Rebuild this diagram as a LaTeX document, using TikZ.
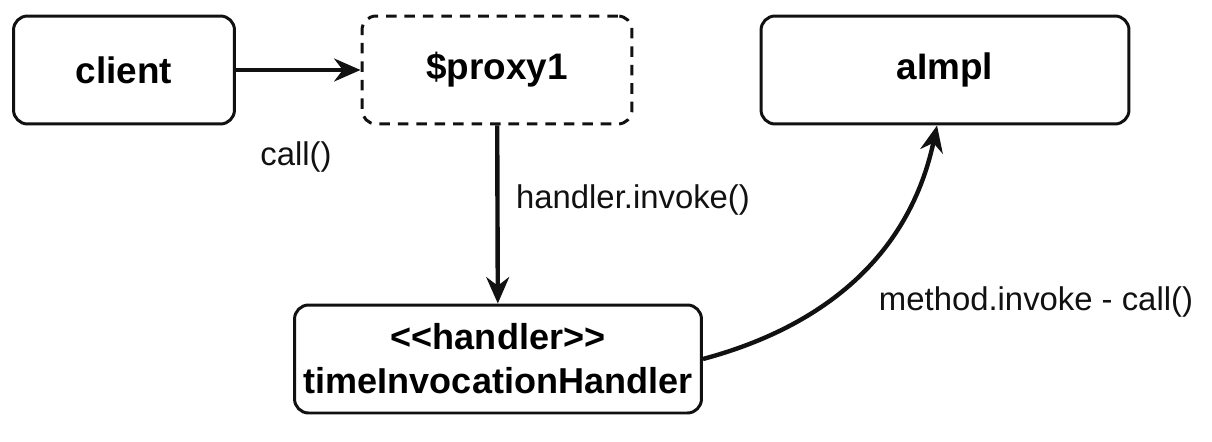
\documentclass[tikz,border=0pt]{standalone}
\usepackage{fontspec}
\setmainfont{Liberation Sans}
\usetikzlibrary{arrows.meta}
\definecolor{ink}{HTML}{111111}

\begin{document}
\begin{tikzpicture}[x=0.02cm,y=-0.02cm,>={Stealth[length=15pt,width=13pt]},
 box/.style={draw=ink,line width=1.7pt,rounded corners=8pt,minimum height=2.16cm,font=\fontsize{21}{25}\selectfont\bfseries,align=center},
 lbl/.style={text=ink,font=\fontsize{18.7}{22}\selectfont},
 arr/.style={->,draw=ink,line width=2.5pt}]
\useasboundingbox (0,0) rectangle (1212,442);
\node[box,minimum width=4.42cm] (client) at (124,70) {client};
\node[box,dash pattern=on 6pt off 4.5pt,minimum width=5.4cm] (proxy) at (497,70) {\$proxy1};
\node[box,minimum width=7.36cm] (impl) at (945,70) {aImpl};
\node[box,minimum width=8.14cm,font=\fontsize{20.5}{25}\selectfont\bfseries] (handler) at (498,359) {<{}<handler>{}>\\timeInvocationHandler};
\node[lbl] (callLbl) at (296,157) {call()};
\node[lbl] (invokeLbl) at (633,200) {handler.invoke()};
\node[lbl] (methodLbl) at (1036,302) {method.invoke - call()};
\draw[arr] (client)--(proxy);
\draw[arr] (proxy)--(handler);
\draw[arr] (handler.east) to[out=15,in=-102] ([xshift=-0.16cm]impl.south);
\end{tikzpicture}
\end{document}
